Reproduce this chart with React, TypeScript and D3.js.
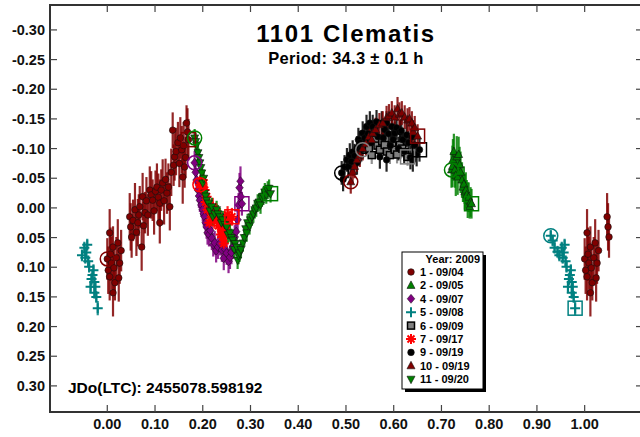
import * as d3 from "d3";

const WIDTH = 640;
const HEIGHT = 437;
const FRAME = { left: 50, top: 5, right: 641, bottom: 412 };

// phase, reduced mag, error
const s1 = [
    [0.0, 0.086, 0.035], [0.002, 0.105, 0.04], [0.005, 0.042, 0.04], [0.005, 0.116, 0.04],
    [0.007, 0.078, 0.045], [0.009, 0.093, 0.045], [0.012, 0.066, 0.035], [0.012, 0.143, 0.04],
    [0.014, 0.101, 0.04], [0.016, 0.126, 0.03], [0.019, 0.084, 0.035], [0.022, 0.059, 0.04],
    [0.024, 0.118, 0.04], [0.026, 0.093, 0.035], [0.029, 0.072, 0.035], [0.047, 0.015, 0.04],
    [0.049, 0.032, 0.04], [0.051, 0.049, 0.035], [0.054, 0.021, 0.035], [0.058, 0.003, 0.045],
    [0.061, 0.041, 0.04], [0.064, 0.025, 0.04], [0.066, 0.012, 0.035], [0.068, -0.002, 0.035],
    [0.072, 0.066, 0.04], [0.074, -0.019, 0.04], [0.076, 0.03, 0.04], [0.079, 0.008, 0.035],
    [0.082, -0.012, 0.04], [0.085, 0.012, 0.035], [0.089, -0.03, 0.04], [0.092, -0.022, 0.04],
    [0.095, -0.013, 0.035], [0.098, 0.005, 0.04], [0.101, -0.028, 0.035], [0.104, -0.035, 0.04],
    [0.107, -0.018, 0.04], [0.11, -0.008, 0.04], [0.11, 0.025, 0.035], [0.113, -0.03, 0.035],
    [0.116, -0.042, 0.04], [0.119, -0.012, 0.04], [0.122, -0.048, 0.035], [0.125, -0.025, 0.035],
    [0.128, -0.035, 0.04], [0.131, -0.002, 0.04], [0.134, -0.06, 0.04], [0.137, -0.131, 0.03],
    [0.139, -0.072, 0.035], [0.141, -0.086, 0.04], [0.144, -0.095, 0.04], [0.148, -0.11, 0.035],
    [0.151, -0.075, 0.04], [0.153, -0.118, 0.035], [0.156, -0.098, 0.04], [0.158, -0.052, 0.045],
    [0.16, -0.105, 0.04], [0.162, -0.069, 0.035], [0.164, -0.085, 0.035], [0.166, -0.143, 0.03],
    [0.168, -0.128, 0.04], [0.17, -0.115, 0.035],
];
const s2 = [
    [0.721, -0.064, 0.03], [0.723, -0.07, 0.035], [0.724, -0.081, 0.035], [0.726, -0.095, 0.03],
    [0.728, -0.064, 0.03], [0.73, -0.055, 0.035], [0.732, -0.086, 0.035], [0.734, -0.052, 0.03],
    [0.736, -0.09, 0.03], [0.738, -0.073, 0.03], [0.74, -0.06, 0.035], [0.743, -0.047, 0.03],
    [0.745, -0.035, 0.025], [0.747, -0.04, 0.03], [0.749, -0.027, 0.03], [0.751, -0.03, 0.03],
    [0.753, -0.022, 0.025], [0.755, -0.013, 0.03], [0.757, -0.018, 0.025], [0.759, -0.002, 0.02],
    [0.761, -0.01, 0.025], [0.763, -0.007, 0.025],
];
const s4 = [
    [0.183, -0.076, 0.02], [0.185, -0.06, 0.02], [0.187, -0.047, 0.02], [0.19, -0.03, 0.02],
    [0.192, -0.02, 0.02], [0.194, -0.013, 0.02], [0.197, -0.005, 0.02], [0.2, 0.003, 0.02],
    [0.202, 0.01, 0.02], [0.204, 0.015, 0.02], [0.206, 0.025, 0.02], [0.208, 0.032, 0.02],
    [0.21, 0.042, 0.02], [0.213, 0.045, 0.02], [0.216, 0.038, 0.02], [0.219, 0.051, 0.02],
    [0.222, 0.062, 0.02], [0.225, 0.059, 0.02], [0.228, 0.072, 0.02], [0.232, 0.066, 0.02],
    [0.236, 0.06, 0.02], [0.24, 0.071, 0.02], [0.244, 0.085, 0.02], [0.247, 0.07, 0.02],
    [0.25, 0.076, 0.02], [0.254, 0.09, 0.02], [0.257, 0.083, 0.02], [0.26, 0.075, 0.02],
    [0.263, 0.066, 0.02], [0.267, 0.049, 0.02], [0.27, 0.04, 0.02], [0.273, 0.02, 0.02],
    [0.275, -0.005, 0.02], [0.277, -0.034, 0.025], [0.279, -0.045, 0.025], [0.28, -0.019, 0.02],
    [0.282, -0.007, 0.02],
];
const s5 = [
    [0.929, 0.047, 0.01], [0.933, 0.055, 0.01], [0.937, 0.067, 0.01], [0.943, 0.074, 0.01],
    [0.947, 0.08, 0.01], [0.952, 0.067, 0.01], [0.954, 0.084, 0.01], [0.956, 0.075, 0.01],
    [0.958, 0.062, 0.01], [0.96, 0.09, 0.01], [0.962, 0.099, 0.01], [0.965, 0.133, 0.01],
    [0.967, 0.12, 0.01], [0.969, 0.113, 0.01], [0.971, 0.105, 0.01], [0.973, 0.125, 0.01],
    [0.973, 0.143, 0.01], [0.975, 0.133, 0.01], [0.977, 0.15, 0.01], [0.98, 0.169, 0.012],
];
const s6 = [
    [0.535, -0.098, 0.015], [0.538, -0.11, 0.015], [0.543, -0.106, 0.015], [0.548, -0.1, 0.015],
    [0.554, -0.089, 0.015], [0.558, -0.12, 0.015], [0.562, -0.115, 0.015], [0.566, -0.105, 0.015],
    [0.571, -0.098, 0.015], [0.576, -0.112, 0.015], [0.581, -0.106, 0.015], [0.586, -0.095, 0.015],
    [0.592, -0.089, 0.015], [0.597, -0.105, 0.015], [0.602, -0.098, 0.015], [0.607, -0.09, 0.015],
    [0.613, -0.106, 0.015], [0.618, -0.1, 0.015], [0.623, -0.094, 0.015], [0.629, -0.086, 0.015],
];
const s7 = [
    [0.194, -0.039, 0.015], [0.198, -0.035, 0.015], [0.2, -0.047, 0.015], [0.204, -0.03, 0.015],
    [0.206, -0.01, 0.015], [0.208, -0.019, 0.015], [0.21, 0.003, 0.015], [0.214, 0.025, 0.015],
    [0.219, 0.015, 0.015], [0.221, -0.002, 0.015], [0.224, 0.02, 0.015], [0.229, 0.008, 0.015],
    [0.233, 0.03, 0.015], [0.236, 0.024, 0.015], [0.238, 0.045, 0.015], [0.24, 0.037, 0.015],
    [0.242, 0.049, 0.015], [0.244, 0.06, 0.015], [0.246, 0.032, 0.015], [0.249, 0.04, 0.015],
    [0.252, 0.012, 0.015], [0.256, 0.02, 0.015], [0.261, 0.015, 0.015],
];
const s9 = [
    [0.491, -0.059, 0.02], [0.494, -0.048, 0.02], [0.497, -0.069, 0.02], [0.502, -0.081, 0.02],
    [0.505, -0.07, 0.02], [0.508, -0.089, 0.02], [0.511, -0.078, 0.02], [0.514, -0.094, 0.02],
    [0.518, -0.088, 0.02], [0.523, -0.101, 0.02], [0.523, -0.076, 0.02], [0.526, -0.115, 0.02],
    [0.529, -0.11, 0.02], [0.532, -0.098, 0.02], [0.535, -0.126, 0.02], [0.539, -0.118, 0.02],
    [0.543, -0.137, 0.02], [0.546, -0.125, 0.02], [0.55, -0.143, 0.02], [0.553, -0.11, 0.02],
    [0.556, -0.137, 0.02], [0.559, -0.128, 0.02], [0.564, -0.145, 0.02], [0.567, -0.12, 0.02],
    [0.571, -0.086, 0.02], [0.575, -0.143, 0.02], [0.578, -0.118, 0.02], [0.581, -0.132, 0.02],
    [0.585, -0.143, 0.02], [0.585, -0.081, 0.02], [0.589, -0.125, 0.02], [0.593, -0.105, 0.02],
    [0.596, -0.137, 0.02], [0.599, -0.115, 0.02], [0.602, -0.126, 0.02], [0.606, -0.135, 0.02],
    [0.61, -0.1, 0.02], [0.613, -0.128, 0.02], [0.616, -0.13, 0.02], [0.619, -0.115, 0.02],
    [0.622, -0.095, 0.02], [0.627, -0.123, 0.02], [0.631, -0.11, 0.02], [0.635, -0.085, 0.02],
    [0.638, -0.12, 0.02], [0.64, -0.081, 0.02], [0.644, -0.106, 0.02], [0.648, -0.09, 0.02],
    [0.654, -0.098, 0.02],
];
const s10 = [
    [0.51, -0.044, 0.02], [0.514, -0.061, 0.02], [0.518, -0.07, 0.02], [0.523, -0.081, 0.02],
    [0.529, -0.089, 0.02], [0.535, -0.1, 0.02], [0.542, -0.108, 0.02], [0.548, -0.12, 0.02],
    [0.554, -0.115, 0.02], [0.556, -0.126, 0.02], [0.562, -0.132, 0.02], [0.57, -0.14, 0.02],
    [0.577, -0.143, 0.02], [0.585, -0.152, 0.02], [0.59, -0.155, 0.02], [0.596, -0.16, 0.02],
    [0.602, -0.153, 0.02], [0.608, -0.167, 0.02], [0.612, -0.158, 0.02], [0.617, -0.16, 0.02],
    [0.623, -0.153, 0.02], [0.629, -0.148, 0.02], [0.633, -0.15, 0.02], [0.638, -0.143, 0.02],
    [0.641, -0.128, 0.02], [0.644, -0.135, 0.02], [0.65, -0.121, 0.02],
];
const s11 = [
    [0.183, -0.118, 0.015], [0.185, -0.112, 0.015], [0.187, -0.106, 0.015], [0.19, -0.093, 0.015],
    [0.192, -0.085, 0.015], [0.194, -0.076, 0.015], [0.196, -0.068, 0.015], [0.198, -0.059, 0.015],
    [0.2, -0.042, 0.015], [0.202, -0.05, 0.015], [0.204, -0.025, 0.015], [0.206, -0.02, 0.015],
    [0.208, -0.013, 0.015], [0.212, -0.008, 0.015], [0.215, 0.005, 0.015], [0.219, -0.002, 0.015],
    [0.221, 0.015, 0.015], [0.225, 0.01, 0.015], [0.229, 0.003, 0.015], [0.232, 0.01, 0.015],
    [0.236, 0.015, 0.015], [0.239, 0.025, 0.015], [0.242, 0.02, 0.015], [0.246, 0.028, 0.015],
    [0.25, 0.032, 0.015], [0.253, 0.045, 0.015], [0.257, 0.042, 0.015], [0.26, 0.05, 0.015],
    [0.263, 0.054, 0.015], [0.266, 0.07, 0.015], [0.268, 0.06, 0.015], [0.271, 0.066, 0.015],
    [0.273, 0.088, 0.015], [0.275, 0.08, 0.015], [0.277, 0.076, 0.015], [0.28, 0.07, 0.015],
    [0.284, 0.059, 0.015], [0.287, 0.05, 0.015], [0.29, 0.035, 0.015], [0.292, 0.042, 0.015],
    [0.294, 0.025, 0.015], [0.298, 0.03, 0.015], [0.3, 0.02, 0.015], [0.303, 0.015, 0.015],
    [0.306, 0.01, 0.015], [0.309, 0.003, 0.015], [0.312, 0.0, 0.015], [0.315, -0.008, 0.015],
    [0.318, -0.01, 0.015], [0.321, -0.005, 0.015], [0.324, -0.017, 0.015], [0.327, -0.02, 0.015],
    [0.33, -0.027, 0.015], [0.333, -0.022, 0.015], [0.336, -0.03, 0.015], [0.339, -0.033, 0.015],
    [0.342, -0.024, 0.015],
];

const sessions = [
    { label: "1 - 09/04", color: "#800000", shape: "circle", data: s1 },
    { label: "2 - 09/05", color: "#008000", shape: "triUp", data: s2 },
    { label: "4 - 09/07", color: "#800080", shape: "diamond", data: s4 },
    { label: "5 - 09/08", color: "#008080", shape: "plus", data: s5 },
    { label: "6 - 09/09", color: "#808080", shape: "square", data: s6 },
    { label: "7 - 09/17", color: "#ff0000", shape: "star", data: s7 },
    { label: "9 - 09/19", color: "#000000", shape: "circle", data: s9 },
    { label: "10 - 09/19", color: "#800000", shape: "triUp", data: s10 },
    { label: "11 - 09/20", color: "#008000", shape: "triDown", data: s11 },
];

const xTicks = [0, 0.1, 0.2, 0.3, 0.4, 0.5, 0.6, 0.7, 0.8, 0.9, 1.0];
const yTicks = [-0.3, -0.25, -0.2, -0.15, -0.1, -0.05, 0, 0.05, 0.1, 0.15, 0.2, 0.25, 0.3];

const FONT = "'Liberation Sans', Arial, sans-serif";

const Marker = ({ shape, color, x, y }: { shape: string; color: string; x: number; y: number }) => {
    const stroke = "#111";
    switch (shape) {
        case "circle":
            return <circle cx={x} cy={y} r={3.3} fill={color} stroke={stroke} strokeWidth={0.6} />;
        case "triUp":
            return <path d={`M${x},${y - 4.5}L${x + 4},${y + 3}L${x - 4},${y + 3}Z`} fill={color} stroke={stroke} strokeWidth={0.6} />;
        case "triDown":
            return <path d={`M${x},${y + 4.5}L${x + 4},${y - 3}L${x - 4},${y - 3}Z`} fill={color} stroke={stroke} strokeWidth={0.6} />;
        case "diamond":
            return <path d={`M${x},${y - 4.5}L${x + 3.8},${y}L${x},${y + 4.5}L${x - 3.8},${y}Z`} fill={color} stroke={stroke} strokeWidth={0.5} />;
        case "plus":
            return <path d={`M${x - 5},${y}H${x + 5}M${x},${y - 5}V${y + 5}`} stroke={color} strokeWidth={2} />;
        case "square":
            return <rect x={x - 3.5} y={y - 3.5} width={7} height={7} fill={color} stroke="#000" strokeWidth={1.5} />;
        case "star":
            return (
                <path
                    d={`M${x - 5},${y}H${x + 5}M${x},${y - 5}V${y + 5}M${x - 3.5},${y - 3.5}L${x + 3.5},${y + 3.5}M${x - 3.5},${y + 3.5}L${x + 3.5},${y - 3.5}`}
                    stroke={color}
                    strokeWidth={2}
                />
            );
        default:
            return null;
    }
};

export default function App() {
    const xScale = d3.scaleLinear().domain([-0.12, 1.118]).range([FRAME.left, FRAME.right]);
    const yScale = d3.scaleLinear().domain([-0.342, 0.344]).range([FRAME.top, FRAME.bottom]);

    // wrapped copies: phases pushed by +/-1 that still fall inside [-0.055, 1.052]
    const plotted = sessions.map((s) => {
        const pts: { p: number; m: number; e: number }[] = [];
        s.data.forEach(([p, m, e]) => {
            pts.push({ p, m, e });
            if (p - 1 >= -0.055) pts.push({ p: p - 1, m, e });
            if (p + 1 <= 1.052) pts.push({ p: p + 1, m, e });
        });
        return { ...s, pts };
    });

    const legendX = 402;
    const legendY = 252;
    const rowH = 13.4;

    return (
        <div style={{ position: "absolute", left: 0, top: 0 }}>
            <svg width={WIDTH} height={HEIGHT} style={{ display: "block", background: "#fff" }}>
                {/* error bars first */}
                {plotted.map((s, i) => (
                    <g key={"e" + i} stroke={s.color} strokeWidth={2.2} strokeOpacity={0.85}>
                        {s.pts.map((d, j) => (
                            <line key={j} x1={xScale(d.p)} x2={xScale(d.p)} y1={yScale(d.m - d.e)} y2={yScale(d.m + d.e)} />
                        ))}
                    </g>
                ))}
                {plotted.map((s, i) => (
                    <g key={"m" + i}>
                        {s.pts.map((d, j) => (
                            <Marker key={j} shape={s.shape} color={s.color} x={xScale(d.p)} y={yScale(d.m)} />
                        ))}
                    </g>
                ))}
                {/* first point open circle, last point open square */}
                {sessions.map((s, i) => {
                    const first = d3.least(s.data, (d) => d[0])!;
                    const last = d3.greatest(s.data, (d) => d[0])!;
                    return (
                        <g key={"fl" + i} fill="none" stroke={s.color} strokeWidth={1.5}>
                            <circle cx={xScale(first[0])} cy={yScale(first[1])} r={7} />
                            <rect x={xScale(last[0]) - 7} y={yScale(last[1]) - 7} width={14} height={14} />
                        </g>
                    );
                })}

                {/* frame */}
                <rect
                    x={FRAME.left}
                    y={FRAME.top}
                    width={FRAME.right - FRAME.left}
                    height={FRAME.bottom - FRAME.top}
                    fill="none"
                    stroke="#333"
                    strokeWidth={2}
                />
                <g stroke="#444" strokeWidth={1.2}>
                    {xTicks.map((t) => (
                        <g key={"xt" + t}>
                            <line x1={xScale(t)} x2={xScale(t)} y1={FRAME.bottom} y2={FRAME.bottom - 7} />
                            <line x1={xScale(t)} x2={xScale(t)} y1={FRAME.top} y2={FRAME.top + 7} />
                        </g>
                    ))}
                    {yTicks.map((t) => (
                        <g key={"yt" + t}>
                            <line x1={FRAME.left} x2={FRAME.left + 7} y1={yScale(t)} y2={yScale(t)} />
                            <line x1={FRAME.right - 5} x2={FRAME.right} y1={yScale(t)} y2={yScale(t)} />
                        </g>
                    ))}
                </g>
                <g fontFamily={FONT} fontWeight="bold" fontSize={14.5} fill="#111">
                    {xTicks.map((t) => (
                        <text key={"xl" + t} x={xScale(t)} y={429} textAnchor="middle">
                            {t.toFixed(2)}
                        </text>
                    ))}
                    {yTicks.map((t) => (
                        <text key={"yl" + t} x={45} y={yScale(t) + 5} textAnchor="end">
                            {t.toFixed(2)}
                        </text>
                    ))}
                </g>

                {/* titles */}
                <text x={346} y={42} textAnchor="middle" fontFamily={FONT} fontWeight="bold" fontSize={24} letterSpacing={1.6} fill="#000">
                    1101 Clematis
                </text>
                <text x={346} y={64} textAnchor="middle" fontFamily={FONT} fontWeight="bold" fontSize={16.5} letterSpacing={0.3} fill="#000">
                    Period: 34.3 ± 0.1 h
                </text>
                <text x={68} y={393} fontFamily={FONT} fontWeight="bold" fontSize={15.5} fill="#000">
                    JDo(LTC): 2455078.598192
                </text>

                {/* legend */}
                <rect x={legendX + 3} y={legendY + 3} width={81} height={137} fill="#000" />
                <rect x={legendX} y={legendY} width={81} height={137} fill="#fff" stroke="#000" strokeWidth={1} />
                <text x={legendX + 78} y={legendY + 11} textAnchor="end" fontFamily={FONT} fontWeight="bold" fontSize={11} fill="#000">
                    Year: 2009
                </text>
                {sessions.map((s, i) => {
                    const cy = legendY + 20 + i * rowH;
                    return (
                        <g key={"lg" + i}>
                            <Marker shape={s.shape} color={s.color} x={legendX + 9} y={cy} />
                            <text x={legendX + 18} y={cy + 4} fontFamily={FONT} fontWeight="bold" fontSize={11} fill="#000">
                                {s.label}
                            </text>
                        </g>
                    );
                })}
            </svg>
        </div>
    );
}
